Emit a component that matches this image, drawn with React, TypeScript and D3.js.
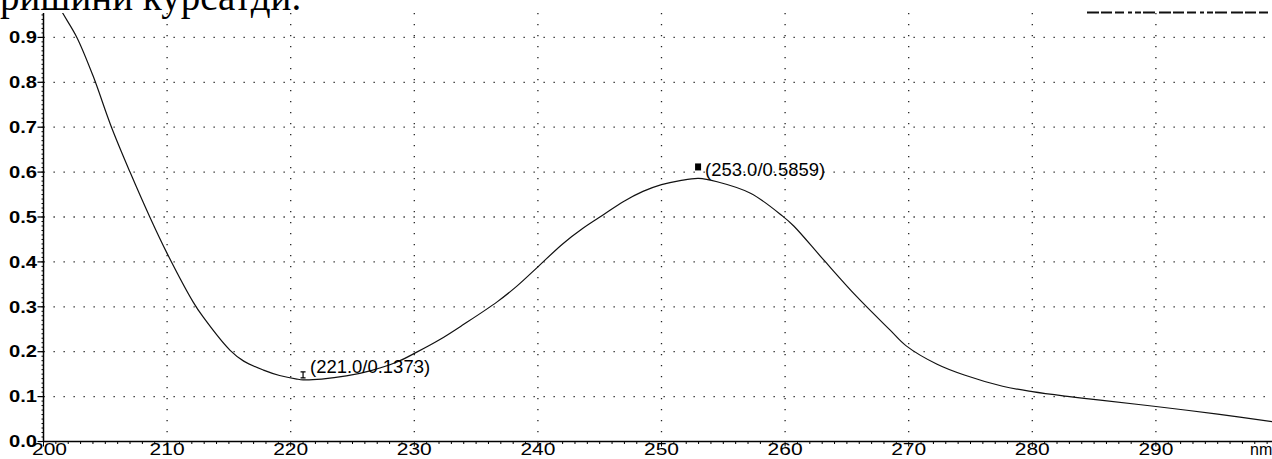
import React from 'react';
import * as d3 from 'd3';

// spectrum (nm / absorbance)
const wavelength = [201.2, 201.5, 202.7, 204.0, 205.5, 207.0, 208.6, 210.0, 212.1, 212.9, 215.1, 216.2, 217.8, 219.1, 220.5, 221.0, 222.5, 224.5, 226.5, 228.6, 230.2, 232.0, 234.0, 236.7, 238.3, 240.0, 242.0, 243.7, 245.3, 246.9, 248.5, 250.0, 251.5, 253.0, 254.5, 257.2, 259.8, 260.7, 263.1, 265.8, 268.5, 269.8, 272.3, 274.5, 277.6, 280.0, 283.0, 285.5, 290.0, 295.0, 299.5];
const absorbance = [0.975, 0.957, 0.9, 0.815, 0.7, 0.6, 0.5, 0.419, 0.311, 0.278, 0.203, 0.179, 0.159, 0.147, 0.139, 0.1373, 0.139, 0.146, 0.158, 0.177, 0.199, 0.226, 0.261, 0.311, 0.346, 0.389, 0.440, 0.476, 0.505, 0.534, 0.557, 0.572, 0.581, 0.5859, 0.5786, 0.553, 0.502, 0.480, 0.405, 0.3225, 0.248, 0.213, 0.172, 0.148, 0.123, 0.111, 0.1, 0.092, 0.078, 0.061, 0.044];

const xTicks = [200, 210, 220, 230, 240, 250, 260, 270, 280, 290];
const yTicks = [0, 0.1, 0.2, 0.3, 0.4, 0.5, 0.6, 0.7, 0.8, 0.9];
const peakLabels = ['(221.0/0.1373)', '(253.0/0.5859)'];
const peakX = [221.0, 253.0];
const peakY = [0.1373, 0.5859];
const peakKind = ['min', 'max'];

const W = 1272, H = 459;
const left = 43.5, bottom = 441.5, top = 13, right = 1272;

const x = d3.scaleLinear().domain([200, 300]).range([left, left + 1236]);
const y = d3.scaleLinear().domain([0, 1]).range([bottom, bottom - 449]);

const sans = '"Liberation Sans", Arial, sans-serif';

export default function App() {
  const pts: [number, number][] = wavelength.map((w, i) => [w, absorbance[i]]);
  const line = d3.line<[number, number]>()
    .x(d => x(d[0]))
    .y(d => y(d[1]))
    .curve(d3.curveCatmullRom.alpha(0.5));

  const minorX = d3.range(200, 300, 1);
  const minorY = d3.range(0, 0.955, 0.01);

  return (
    <svg width={W} height={H} style={{ position: 'fixed', left: 0, top: 0, background: '#fff' }}>
      <defs>
        <clipPath id="plot">
          <rect x={left} y={top} width={right - left} height={bottom - top} />
        </clipPath>
      </defs>
      <rect width={W} height={H} fill="#fff" />

      {/* cut-off text above the chart (cut in the scan too) */}
      <text x={0} y={10} fontFamily='"Liberation Serif", "Times New Roman", serif' fontSize={39} fill="#000">ришини курсатди.</text>
      <line x1={1087} x2={1272} y1={12.5} y2={12.5} stroke="#111" strokeWidth={2} strokeDasharray="12 2 11 3 9 4 4 3 6 2 12 4" />

      {/* dotted grid */}
      {xTicks.filter(t => t > 200).map(t => (
        <line key={'gx' + t} x1={x(t)} x2={x(t)} y1={top} y2={bottom} stroke="#222" strokeWidth={1.3} strokeDasharray="1.3 9.7" />
      ))}
      {yTicks.filter(t => t > 0).map(t => (
        <line key={'gy' + t} x1={left} x2={right} y1={y(t)} y2={y(t)} stroke="#222" strokeWidth={1.3} strokeDasharray="1.3 8.7" />
      ))}

      {/* axes */}
      <line x1={left} x2={left} y1={top} y2={bottom} stroke="#000" strokeWidth={1.5} />
      <line x1={left} x2={right} y1={bottom} y2={bottom} stroke="#000" strokeWidth={1.5} />
      {minorY.map((t, i) => (
        <line key={'my' + i} x1={left - 2} x2={left} y1={y(t)} y2={y(t)} stroke="#000" strokeWidth={1} />
      ))}
      {minorX.map(t => (
        <line key={'mx' + t} x1={x(t)} x2={x(t)} y1={bottom} y2={bottom + (t % 10 === 0 ? 5 : 2.5)} stroke="#000" strokeWidth={1} />
      ))}
      {yTicks.map(t => (
        <g key={'yl' + t}>
          <line x1={left - 6} x2={left} y1={y(t)} y2={y(t)} stroke="#000" strokeWidth={1.2} />
          <text x={37} y={y(t)} dy="0.36em" textAnchor="end" fontFamily={sans} fontWeight="bold" fontSize={16}
            textLength={28} lengthAdjust="spacingAndGlyphs">{t.toFixed(1)}</text>
        </g>
      ))}
      {xTicks.map(t => (
        <text key={'xl' + t} x={t === 200 ? x(t) + 6 : x(t)} y={455} textAnchor="middle" fontFamily={sans} fontSize={17}
          textLength={35} lengthAdjust="spacingAndGlyphs">{t}</text>
      ))}
      <text x={1250} y={455} fontFamily={sans} fontSize={16}>nm</text>

      {/* spectrum */}
      <path d={line(pts) || ''} fill="none" stroke="#111" strokeWidth={1.2} clipPath="url(#plot)" />

      {/* valley / peak markers */}
      {peakLabels.map((lab, i) => {
        const px = x(peakX[i]), py = y(peakY[i]);
        if (peakKind[i] === 'min') {
          return (
            <g key={lab}>
              <path d={`M${px - 2.5},${py - 8}h5M${px},${py - 8}v6M${px - 2.5},${py - 2}h5`} stroke="#000" strokeWidth={1.2} fill="none" />
              <text x={px + 7} y={py - 7} fontFamily={sans} fontSize={17.5} textLength={120} lengthAdjust="spacingAndGlyphs">{lab}</text>
            </g>
          );
        }
        return (
          <g key={lab}>
            <rect x={px - 3.5} y={py - 15} width={6} height={7} fill="#000" />
            <text x={px + 6.5} y={py - 2} fontFamily={sans} fontSize={17.5} textLength={120} lengthAdjust="spacingAndGlyphs">{lab}</text>
          </g>
        );
      })}
    </svg>
  );
}
